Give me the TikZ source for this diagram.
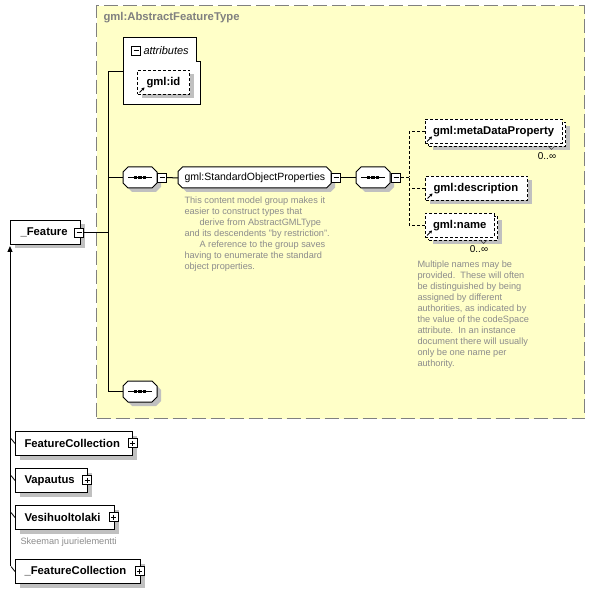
\documentclass[tikz,border=0pt]{standalone}
\usepackage{fontspec}
\setmainfont{Liberation Sans}
\usetikzlibrary{shadows,arrows.meta}
\definecolor{cfill}{RGB}{255,255,200}
\definecolor{cframe}{RGB}{128,128,128}
\definecolor{cshadow}{RGB}{192,192,192}
\definecolor{cnote}{RGB}{140,140,140}
% octagon outline: centre x, centre y, half width, half height, chamfer
\newcommand\octoshape[5]{%
  \fill[cshadow] (#1-#3+#5+4,#2-#4+4) -- (#1+#3-#5+4,#2-#4+4) -- (#1+#3+4,#2-#4+#5+4) -- (#1+#3+4,#2+#4-#5+4) -- (#1+#3-#5+4,#2+#4+4) -- (#1-#3+#5+4,#2+#4+4) -- (#1-#3+4,#2+#4-#5+4) -- (#1-#3+4,#2-#4+#5+4) -- cycle;
  \draw[fill=white,line width=1pt] (#1-#3+#5,#2-#4) -- (#1+#3-#5,#2-#4) -- (#1+#3,#2-#4+#5) -- (#1+#3,#2+#4-#5) -- (#1+#3-#5,#2+#4) -- (#1-#3+#5,#2+#4) -- (#1-#3,#2+#4-#5) -- (#1-#3,#2-#4+#5) -- cycle;}
% sequence compositor body: centre x, centre y
\newcommand\seqshape[2]{%
  \octoshape{#1}{#2}{17}{10.5}{5}%
  \draw[line width=1pt] (#1-12,#2) -- (#1+12,#2);
  \foreach \d in {-4.5,0,4.5}{\fill (#1+\d-1.6,#2-1.6) rectangle (#1+\d+1.6,#2+1.6);}}
\begin{document}
\begin{tikzpicture}[x=1pt,y=-1pt,line width=1pt,
  shd/.style={general shadow={fill=cshadow,shadow xshift=4pt,shadow yshift=-4pt}},
  refdash/.style={dash pattern=on 3pt off 2pt},
  elem/.style={draw,fill=white,font=\bfseries\fontsize{11.3}{13}\selectfont,minimum height=24pt,inner xsep=9pt,inner ysep=0pt,align=left,anchor=north west},
  backbox/.style={draw,fill=white,refdash,minimum height=24pt,inner sep=0pt,anchor=north west,shd},
  refarrow/.style={path picture={\draw[line width=0.8pt,solid,-{Stealth[length=3pt,width=3.5pt]}] ([shift={(2pt,2pt)}]path picture bounding box.south west) -- ++(5pt,5pt);}},
  compnode/.style={minimum width=34pt,minimum height=21pt,inner sep=0pt},
  grp/.style={minimum height=21pt,inner xsep=6pt,inner ysep=0pt,align=left,anchor=north west,font=\fontsize{10.5}{12}\selectfont},
  minusbox/.style={draw,fill=white,line width=0.8pt,minimum size=9pt,inner sep=0pt,
    path picture={\draw[line width=0.8pt] ([xshift=2pt]path picture bounding box.west) -- ([xshift=-2pt]path picture bounding box.east);}},
  plusbox/.style={minusbox,
    path picture={\draw[line width=0.8pt] ([xshift=2pt]path picture bounding box.west) -- ([xshift=-2pt]path picture bounding box.east);
      \draw[line width=0.8pt] ([yshift=-2pt]path picture bounding box.north) -- ([yshift=2pt]path picture bounding box.south);}},
  note/.style={text=cnote,font=\fontsize{9.2}{11}\selectfont,align=left,anchor=north west,inner sep=0pt},
  occ/.style={font=\fontsize{10}{12}\selectfont,inner sep=0pt},
  notch/.style={draw=black!70,line width=0.7pt},
  conn/.style={draw,line width=1pt},
  dconn/.style={draw,line width=1pt,refdash}]
\useasboundingbox (0,0) rectangle (594,593);
\fill[white] (0,0) rectangle (594,593);

% complex type frame
\node[draw=cframe,fill=cfill,line width=1.2pt,dash pattern=on 14pt off 5pt,minimum width=488pt,minimum height=413pt,anchor=north west,inner sep=0pt] (aft) at (96,5) {};
\node[anchor=west,inner sep=0pt,text=cframe,font=\bfseries\fontsize{11.3}{13}\selectfont] (afttitle) at (103,18) {gml:AbstractFeatureType};

% attributes box
\draw[fill=white] (123,38) -- (196,38) -- (196,62) -- (200.5,62) -- (200.5,105) -- (123,105) -- cycle;
\coordinate (attrW) at (123,72);
\node[minusbox] (attrminus) at (136,50.5) {};
\node[anchor=west,inner sep=0pt,font=\itshape\fontsize{11}{13}\selectfont] (attrtitle) at (143,50.5) {attributes};
\node[elem,refdash,refarrow,shd,text width=34pt] (gmlid) at (137,70) {gml:id};

% _Feature
\node[elem,shd,inner xsep=10pt,text width=50pt] (feature) at (10,220) {\_Feature};
\node[minusbox] (featminus) at (79,232.5) {};

% sequence 1, group, sequence 2
\seqshape{140}{177.5}
\node[compnode] (seq1) at (140,177.5) {};
\node[minusbox] (seq1m) at (162,177.5) {};
\octoshape{254.5}{177.5}{76.5}{10.5}{4.5}
\node[grp,text width=141pt] (sop) at (178,167) {gml:StandardObjectProperties};
\node[minusbox] (sopm) at (336,177.5) {};
\seqshape{373}{177.5}
\node[compnode] (seq2) at (373,177.5) {};
\node[minusbox] (seq2m) at (396,177.5) {};
\node[note] (sopnote) at (184,196) {This content model group makes it\\easier to construct types that\\\hspace*{15pt}derive from AbstractGMLType\\and its descendents "by restriction".\\\hspace*{15pt}A reference to the group saves\\having to enumerate the standard\\object properties.};

% sequence 3
\seqshape{140}{391.5}
\node[compnode] (seq3) at (140,391.5) {};

% property elements
\node[backbox,minimum width=137pt] (metaback) at (428,122) {};
\node[elem,refdash,refarrow,inner xsep=8pt,text width=121pt] (meta) at (424.5,119) {gml:metaDataProperty};
\draw[notch] (548,146) -- (551.5,149.5) -- (555,146);
\node[occ] (metaocc) at (547,156) {0..∞};
\node[elem,refdash,refarrow,shd,inner xsep=8pt,text width=86pt] (desc) at (425,176) {gml:description};
\node[backbox,minimum width=69pt] (nameback) at (428,216) {};
\node[elem,refdash,refarrow,inner xsep=8pt,text width=53pt] (name) at (424.5,213) {gml:name};
\draw[notch] (480,240) -- (483.5,243.5) -- (487,240);
\node[occ] (nameocc) at (479,249) {0..∞};
\node[note] (namenote) at (417,260) {Multiple names may be\\provided.\ \ These will often\\be distinguished by being\\assigned by different\\authorities, as indicated by\\the value of the codeSpace\\attribute.\ \ In an instance\\document there will usually\\only be one name per\\authority.};

% derived types
\node[elem,shd,text width=99pt] (fc) at (15,431) {FeatureCollection};
\node[plusbox] (fcp) at (132.5,443) {};
\node[elem,shd,text width=54pt] (vap) at (15,468) {Vapautus};
\node[plusbox] (vapp) at (87,480) {};
\node[elem,shd,text width=81pt] (vesi) at (15,505) {Vesihuoltolaki};
\node[plusbox] (vesip) at (113.5,517) {};
\node[note,anchor=west] (vesinote) at (20,542) {Skeeman juurielementti};
\node[elem,shd,text width=107pt] (ufc) at (15,559) {\_FeatureCollection};
\node[plusbox] (ufcp) at (139.5,571) {};

% connectors
\coordinate (busT) at (108,72);
\coordinate (busB) at (108,391.5);
\path[conn] (busT) -- (busB);
\path[conn] (busT) -- (attrW);
\path[conn] (featminus.east) -- (featminus.east -| busT);
\path[conn] (seq1.west) -- (seq1.west -| busT);
\path[conn] (seq3.west) -- (seq3.west -| busT);
\path[conn] (seq1.east) -- (seq1m.west);
\path[conn] (seq1m.east) -- (sop.west);
\path[conn] (sopm.east) -- (seq2.west);
\path[conn] (seq2.east) -- (seq2m.west);
\coordinate (dbus) at (409,177.5);
\path[dconn] (seq2m.east) -- (dbus);
\path[dconn] (meta.west) -| (dbus);
\path[dconn] (desc.west) -- (desc.west -| dbus);
\path[dconn] (name.west) -| (dbus);

% inheritance
\coordinate (inhtop) at (10,246);
\coordinate (inhbot) at (10,566);
\draw[line width=1pt,-{Triangle[length=6pt,width=5pt]}] (inhbot) -- (inhtop);
\draw[line width=0.8pt] (fc.west) -- ++(-4,-5);
\draw[line width=0.8pt] (vap.west) -- ++(-4,-5);
\draw[line width=0.8pt] (vesi.west) -- ++(-4,-5);
\draw[line width=0.8pt] (ufc.west) -- ++(-4,-5);
\end{tikzpicture}
\end{document}
